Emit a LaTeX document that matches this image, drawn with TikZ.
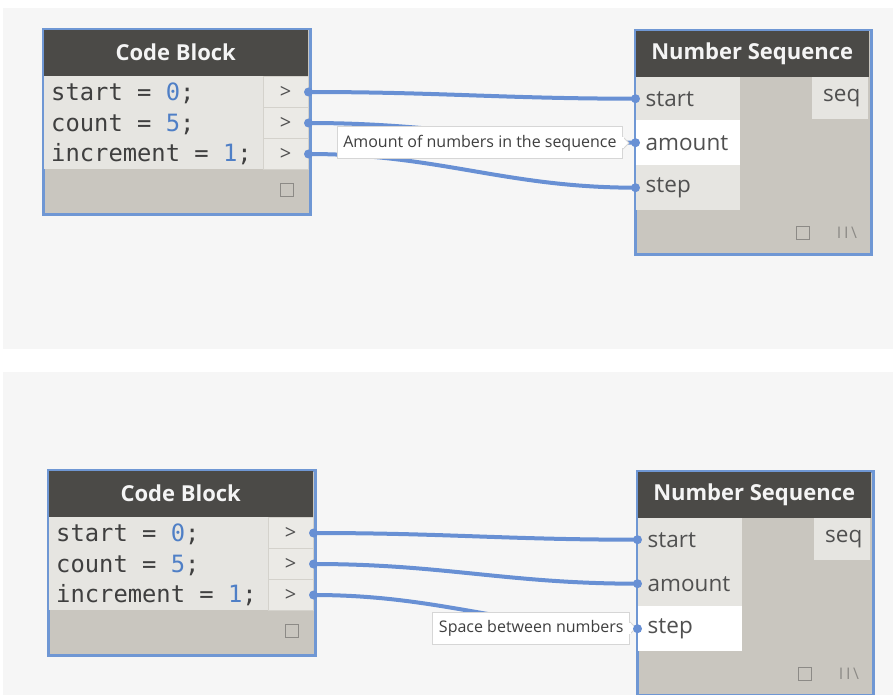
\documentclass[tikz,border=0pt]{standalone}
\usepackage{fontspec}
\setmainfont{Open Sans}
\setmonofont{DejaVu Sans Mono}
\usetikzlibrary{calc}
\definecolor{panelc}{HTML}{F6F6F6}
\definecolor{hdrc}{HTML}{4B4A47}
\definecolor{hdrtext}{HTML}{F4F4F4}
\definecolor{bodyc}{HTML}{C9C6BF}
\definecolor{rowc}{HTML}{E6E5E1}
\definecolor{portc}{HTML}{EBEAE6}
\definecolor{portline}{HTML}{D4D2CC}
\definecolor{selblue}{HTML}{6F97D4}
\definecolor{wirec}{HTML}{6890D4}
\definecolor{numc}{HTML}{4F7FC6}
\definecolor{txtc}{HTML}{3F3F3F}
\definecolor{lblc}{HTML}{505050}
\definecolor{tipline}{HTML}{D6D6D6}
\definecolor{iconc}{HTML}{8C8A86}
\tikzset{
  selframe/.style={draw=selblue, line width=2.5pt, inner sep=0, anchor=north west},
  hdr/.style={fill=hdrc, text=hdrtext, font=\fontsize{22}{25}\selectfont\bfseries, inner sep=0, anchor=north west, minimum height=46},
  cell/.style={fill=rowc, inner sep=0, anchor=north west},
  portcell/.style={fill=portc, draw=portline, line width=1pt, inner sep=0, anchor=north west, minimum width=45, minimum height=31, text=lblc, font=\fontsize{20}{22}\selectfont},
  codetxt/.style={anchor=west, inner sep=0, text=txtc, font=\fontsize{23.8}{26}\selectfont\ttfamily},
  inport/.style={anchor=north west, inner xsep=10, inner ysep=0, text width=84, align=left, text=lblc, font=\fontsize{22.5}{26}\selectfont},
  outport/.style={fill=rowc, anchor=north east, inner xsep=8, inner ysep=0, text width=40, align=right, minimum height=42, text=lblc, font=\fontsize{22.5}{26}\selectfont},
  iconsq/.style={draw=iconc, line width=1.2pt, inner sep=0, minimum size=13},
  icontxt/.style={inner sep=0, text=iconc, font=\fontsize{16}{18}\selectfont},
  wire/.style={draw=wirec, line width=4pt},
  tip/.style={fill=white, draw=tipline, line width=1pt, inner xsep=6, inner ysep=0, minimum height=32, text=txtc, font=\fontsize{16}{19}\selectfont, anchor=east},
}
\newcommand{\CodeBlockAt}[3]{%
  \begin{scope}[shift={(#2,#3)}]
    \node[selframe, fill=bodyc, minimum width=267, minimum height=185] (#1) at (0,0) {};
    \node[hdr, minimum width=264] (#1h) at (1.5,1.5) {Code Block};
    \node[cell, minimum width=219, minimum height=93] (#1c) at (1.5,48) {};
    \node[portcell] (#1p1) at (220.5,48) {>};
    \node[portcell] (#1p2) at (220.5,79) {>};
    \node[portcell] (#1p3) at (220.5,110) {>};
    \node[codetxt] (#1t1) at (9,65) {start = \textcolor{numc}{0};};
    \node[codetxt] (#1t2) at (9,96) {count = \textcolor{numc}{5};};
    \node[codetxt] (#1t3) at (9,126) {increment = \textcolor{numc}{1};};
    \node[iconsq] (#1sq) at (245,162) {};
  \end{scope}}
\newcommand{\NumSeqAt}[5]{%
  \begin{scope}[shift={(#2,#3)}]
    \node[selframe, fill=bodyc, minimum width=236, minimum height=224] (#1) at (0,0) {};
    \node[hdr, minimum width=233] (#1h) at (1.5,1.5) {Number Sequence};
    \node[inport, fill=rowc, minimum height=43] (#1s) at (1.5,48) {start};
    \node[inport, fill=#4, minimum height=45] (#1a) at (1.5,91) {amount};
    \node[inport, fill=#5, minimum height=45] (#1t) at (1.5,136) {step};
    \node[outport] (#1q) at (234.5,48) {seq};
    \node[iconsq] (#1sq) at (169,204) {};
    \node[icontxt] (#1ic) at (213,204) {I\,I\,\textbackslash};
  \end{scope}}
\begin{document}
\begin{tikzpicture}[x=1pt,y=-1pt]
\useasboundingbox (0,0) rectangle (893,695);
\fill[panelc] (3,8) rectangle (893,349);
\fill[panelc] (3,372) rectangle (893,695);
% top panel
\CodeBlockAt{cba}{42}{28}
\NumSeqAt{nsa}{634}{29}{white}{rowc}
\draw[wire] (cbap1.east) .. controls +(130,0) and +(-130,0) .. (nsas.west);
\draw[wire] (cbap2.east) .. controls +(130,0) and +(-130,0) .. (nsaa.west);
\draw[wire] (cbap3.east) .. controls +(130,0) and +(-130,0) .. (nsat.west);
\node[tip] (tipa) at (623,143) {Amount of numbers in the sequence};
\fill[white, draw=tipline, line width=1pt] ($(tipa.east)+(0,-6)$) -- ($(tipa.east)+(6,0)$) -- ($(tipa.east)+(0,6)$);
\fill[white] ($(tipa.east)+(-1.2,-5.5)$) rectangle ($(tipa.east)+(0.6,5.5)$);
\foreach \p in {cbap1.east,cbap2.east,cbap3.east,nsas.west,nsaa.west,nsat.west}
  \fill[wirec] (\p) circle (4.5pt);
% bottom panel
\CodeBlockAt{cbb}{47}{469}
\NumSeqAt{nsb}{636}{470}{rowc}{white}
\draw[wire] (cbbp1.east) .. controls +(130,0) and +(-130,0) .. (nsbs.west);
\draw[wire] (cbbp2.east) .. controls +(130,0) and +(-130,0) .. (nsba.west);
\draw[wire] (cbbp3.east) .. controls +(130,0) and +(-130,0) .. (nsbt.west);
\node[tip] (tipb) at (630,628) {Space between numbers};
\fill[white, draw=tipline, line width=1pt] ($(tipb.east)+(0,-6)$) -- ($(tipb.east)+(6,0)$) -- ($(tipb.east)+(0,6)$);
\fill[white] ($(tipb.east)+(-1.2,-5.5)$) rectangle ($(tipb.east)+(0.6,5.5)$);
\foreach \p in {cbbp1.east,cbbp2.east,cbbp3.east,nsbs.west,nsba.west,nsbt.west}
  \fill[wirec] (\p) circle (4.5pt);
\end{tikzpicture}
\end{document}
